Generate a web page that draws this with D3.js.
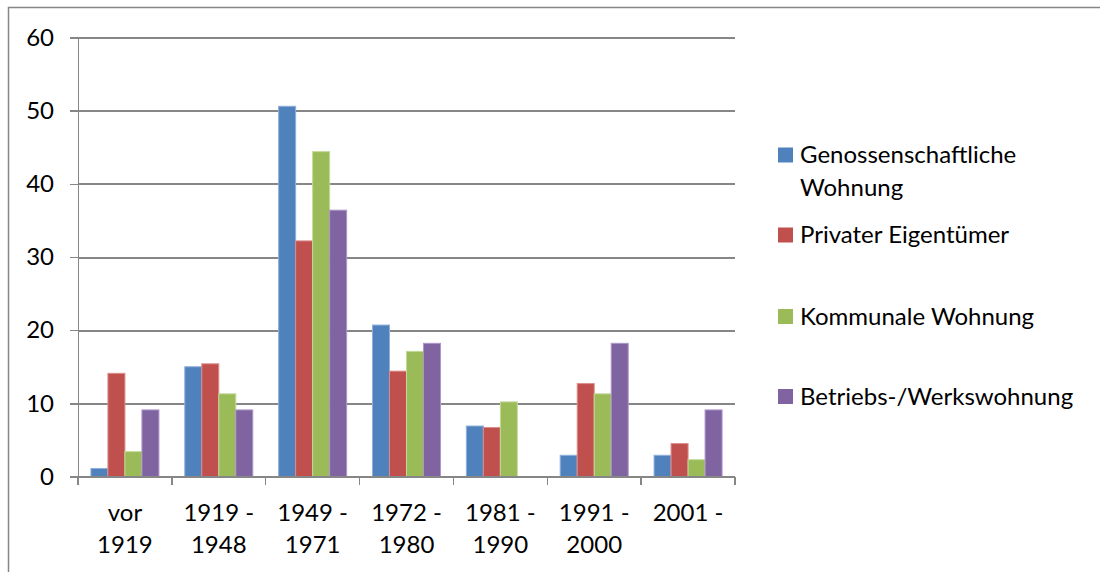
<!DOCTYPE html>
<html>
<head>
    <meta charset="utf-8">
    <script src="https://cdn.jsdelivr.net/npm/d3@7/dist/d3.min.js"></script>
    <style type="text/css">
        body { margin: 0; background: white; }
        .axis path, .axis line { fill: none; stroke: #868686; shape-rendering: crispEdges; }
        .axis text, .legend text { font-family: Lato, "Open Sans", sans-serif; font-size: 24px; fill: black; }
        .grid line { stroke: #868686; shape-rendering: crispEdges; }
    </style>
</head>
<body>
<div id="chart"></div>
<script type="text/javascript">
    var categories = [["vor", "1919"], ["1919 -", "1948"], ["1949 -", "1971"], ["1972 -", "1980"],
                      ["1981 -", "1990"], ["1991 -", "2000"], ["2001 -"]];
    var seriesNames = ["Genossenschaftliche Wohnung", "Privater Eigentümer", "Kommunale Wohnung", "Betriebs-/Werkswohnung"];
    var legendLines = [["Genossenschaftliche", "Wohnung"], ["Privater Eigentümer"], ["Kommunale Wohnung"], ["Betriebs-/Werkswohnung"]];
    var genossenschaft = [1.1, 15.0, 50.6, 20.7, 6.9, 2.9, 2.9];
    var privat = [14.1, 15.4, 32.2, 14.4, 6.7, 12.7, 4.5];
    var kommunal = [3.4, 11.3, 44.4, 17.1, 10.2, 11.3, 2.3];
    var betrieb = [9.1, 9.1, 36.4, 18.2, 0, 18.2, 9.1];
    var yTicks = [0, 10, 20, 30, 40, 50, 60];
    var colors = ["#4F81BD", "#C0504D", "#9BBB59", "#8064A2"];
    var edges = ["#8EB0DA", "#DC8C8A", "#C3D99A", "#AD97C7"];

    var series = [genossenschaft, privat, kommunal, betrieb];

    var W = 1100, H = 572;
    var margin = { top: 37.5, left: 78, bottom: 95, right: 365 };
    var width = W - margin.left - margin.right;
    var height = H - margin.top - margin.bottom - 0.5;

    var root = d3.select("#chart").append("svg")
        .attr("width", W)
        .attr("height", H);

    // chart border (only top and left are visible)
    root.append("rect")
        .attr("x", 8.5).attr("y", 7.5)
        .attr("width", W).attr("height", H)
        .attr("fill", "none")
        .attr("stroke", "#868686")
        .attr("stroke-width", 1.5);

    var svg = root.append("g")
        .attr("transform", "translate(" + margin.left + "," + margin.top + ")");

    var keys = categories.map(function (d) { return d.join(" "); });

    var x = d3.scaleBand().domain(keys).range([0, width]).paddingInner(0).paddingOuter(0);
    var x1 = d3.scaleBand().domain(d3.range(4)).range([0, x.bandwidth()]).paddingOuter(0.76);
    var y = d3.scaleLinear().domain([0, 60]).range([height, 0]);

    // gridlines
    svg.append("g").attr("class", "grid")
        .selectAll("line")
        .data(yTicks.slice(1))
        .enter().append("line")
        .attr("x1", 0).attr("x2", width)
        .attr("y1", function (d) { return Math.round(y(d)) + 0.5; })
        .attr("y2", function (d) { return Math.round(y(d)) + 0.5; })
        .attr("stroke-width", 1.5);

    // bars
    var groups = svg.selectAll(".group")
        .data(keys)
        .enter().append("g")
        .attr("class", "group")
        .attr("transform", function (d) { return "translate(" + x(d) + ",0)"; });

    groups.selectAll("rect")
        .data(function (d, i) { return series.map(function (s, j) { return { j: j, v: s[i] }; }); })
        .enter().filter(function (d) { return d.v > 0; }).append("rect")
        .attr("x", function (d) { return x1(d.j); })
        .attr("y", function (d) { return y(d.v); })
        .attr("width", x1.bandwidth())
        .attr("height", function (d) { return height - y(d.v); })
        .attr("fill", function (d) { return colors[d.j]; })
        .attr("stroke", function (d) { return edges[d.j]; })
        .attr("stroke-width", 1);

    // y axis
    var yAxis = d3.axisLeft(y).tickValues(yTicks).tickSize(8).tickPadding(16).tickFormat(d3.format("d"));
    var gy = svg.append("g").attr("class", "axis").call(yAxis);
    gy.select(".domain").attr("d", "M0.5,0V" + height).attr("stroke-width", 1.5);
    gy.selectAll(".tick line").attr("stroke-width", 1.5);

    // x axis
    var xAxis = d3.axisBottom(x).tickSize(0).tickFormat("");
    var gx = svg.append("g").attr("class", "axis")
        .attr("transform", "translate(0," + height + ")")
        .call(xAxis);
    gx.select(".domain").attr("d", "M-8,0.5H" + width).attr("stroke-width", 1.5);

    gx.selectAll(".sep")
        .data(d3.range(keys.length + 1))
        .enter().append("line")
        .attr("x1", function (i) { return i * x.step(); })
        .attr("x2", function (i) { return i * x.step(); })
        .attr("y1", 0).attr("y2", 8)
        .attr("stroke-width", 1.5);

    gx.selectAll(".lbl")
        .data(categories)
        .enter().append("text")
        .attr("text-anchor", "middle")
        .attr("transform", function (d, i) { return "translate(" + (x(keys[i]) + x.bandwidth() / 2) + ",44)"; })
        .selectAll("tspan")
        .data(function (d) { return d; })
        .enter().append("tspan")
        .attr("x", 0)
        .attr("dy", function (d, i) { return i === 0 ? 0 : 32; })
        .text(function (d) { return d; });

    // legend
    var legendY = [155, 235, 316.5, 396.5];
    var legend = root.append("g").attr("class", "legend")
        .selectAll("g")
        .data(seriesNames)
        .enter().append("g")
        .attr("transform", function (d, i) { return "translate(778," + legendY[i] + ")"; });

    legend.append("rect")
        .attr("x", 0).attr("y", -7.5)
        .attr("width", 15).attr("height", 15)
        .attr("fill", function (d, i) { return colors[i]; });

    legend.append("text")
        .attr("x", 22).attr("y", 8)
        .selectAll("tspan")
        .data(function (d, i) { return legendLines[i]; })
        .enter().append("tspan")
        .attr("x", 22)
        .attr("dy", function (d, i) { return i === 0 ? 0 : 33; })
        .text(function (d) { return d; });
</script>
</body>
</html>
